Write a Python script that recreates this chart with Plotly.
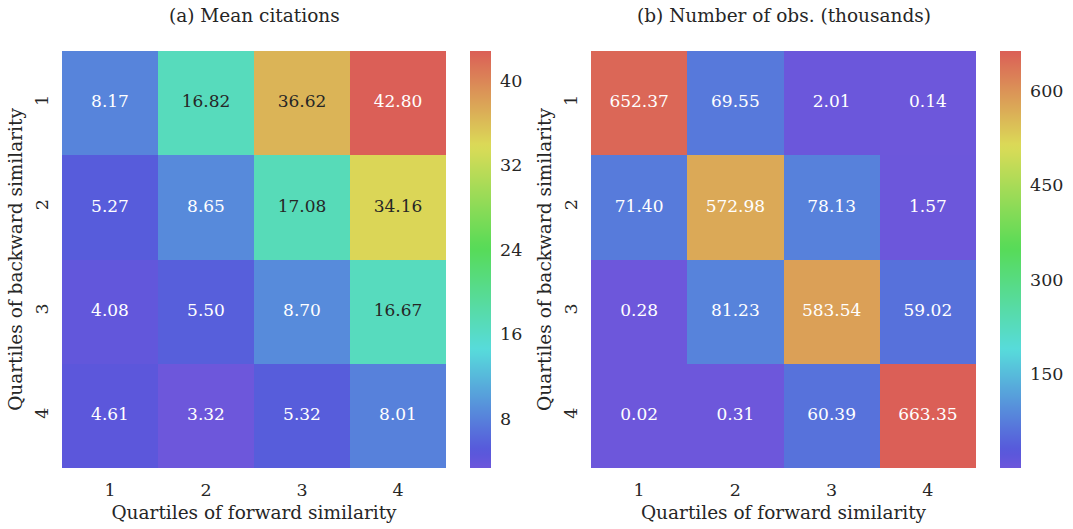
import colorsys
import plotly.graph_objects as go

# ---- data ----
fwd_labels = ["1", "2", "3", "4"]
bwd_labels = ["1", "2", "3", "4"]
mean_citations = [
    [8.17, 16.82, 36.62, 42.80],
    [5.27, 8.65, 17.08, 34.16],
    [4.08, 5.50, 8.70, 16.67],
    [4.61, 3.32, 5.32, 8.01],
]
num_obs = [
    [652.37, 69.55, 2.01, 0.14],
    [71.40, 572.98, 78.13, 1.57],
    [0.28, 81.23, 583.54, 59.02],
    [0.02, 0.31, 60.39, 663.35],
]
cbar_ticks_a = [8, 16, 24, 32, 40]
cbar_ticks_b = [150, 300, 450, 600]

W, H = 1073, 529
FONT = "DejaVu Serif"
TXT = "#262626"
F_ANN, F_TICK, F_TITLE = 17, 17.5, 18.5

H_TOP, H_BOT = 250.0, 3.6
L, S = 0.6, 0.65
LUM_THRESHOLD = 0.46


def cmap(t):
    h = (H_BOT + (1 - t) * (H_TOP - H_BOT)) / 360.0
    return colorsys.hls_to_rgb(h, L, S)


N = 64
colorscale = []
for i in range(N):
    t = i / (N - 1)
    r, g, b = cmap(t)
    colorscale.append([t, f"rgb({round(r*255)},{round(g*255)},{round(b*255)})"])


def lum(rgb):
    def lin(c):
        return c / 12.92 if c <= 0.03928 else ((c + 0.055) / 1.055) ** 2.4
    r, g, b = (lin(c) for c in rgb)
    return 0.2126 * r + 0.7152 * g + 0.0722 * b


def text_colors(z):
    flat = [v for row in z for v in row]
    lo, hi = min(flat), max(flat)
    cols = []
    for row in z:
        for v in row:
            c = cmap((v - lo) / (hi - lo))
            cols.append(TXT if lum(c) > LUM_THRESHOLD else "white")
    return cols


def px2x(p):
    return p / W


def px2y(p):
    return 1 - p / H


top, bot = 51, 468
dom_y = [px2y(bot), px2y(top)]
dom_x1 = [px2x(62), px2x(446)]
dom_x2 = [px2x(591), px2x(976)]

fig = go.Figure()

xs = [1, 2, 3, 4]
ys = [1, 2, 3, 4]

for z, ticks, cbx, xa, ya in [
    (mean_citations, cbar_ticks_a, 470, "x", "y"),
    (num_obs, cbar_ticks_b, 1000, "x2", "y2"),
]:
    fig.add_trace(go.Heatmap(
        z=z, x=xs, y=ys, xaxis=xa, yaxis=ya,
        colorscale=colorscale, xgap=0, ygap=0,
        hoverinfo="skip",
        colorbar=dict(
            x=px2x(cbx), xanchor="left", xref="paper",
            y=px2y(bot), yanchor="bottom",
            len=(bot - top) / H, lenmode="fraction",
            thickness=21, thicknessmode="pixels",
            outlinewidth=0, tickvals=ticks,
            ticks="outside", ticklen=6, tickcolor="rgba(0,0,0,0)",
            tickfont=dict(family=FONT, size=F_TICK, color=TXT),
            ypad=0, xpad=0,
        ),
    ))
    tx, ty, tt = [], [], []
    for i, row in enumerate(z):
        for j, v in enumerate(row):
            tx.append(xs[j]); ty.append(ys[i]); tt.append(f"{v:.2f}")
    fig.add_trace(go.Scatter(
        x=tx, y=ty, text=tt, mode="text", xaxis=xa, yaxis=ya,
        textfont=dict(family=FONT, size=F_ANN, color=text_colors(z)),
        hoverinfo="skip", showlegend=False,
    ))

axis_common = dict(
    showgrid=False, zeroline=False, showline=False, ticks="",
    tickfont=dict(family=FONT, size=F_TICK, color=TXT),
)


def xaxis(dom, anchor):
    return dict(domain=dom, range=[0.5, 4.5], tickvals=xs, ticktext=fwd_labels,
                ticklabelstandoff=9,
                title=dict(text="Quartiles of forward similarity",
                           font=dict(family=FONT, size=F_TITLE, color=TXT), standoff=7),
                anchor=anchor, **axis_common)


def yaxis(anchor):
    return dict(domain=dom_y, range=[4.5, 0.5], tickvals=ys, ticktext=bwd_labels,
                tickangle=-90, ticklabelstandoff=10,
                title=dict(text="Quartiles of backward similarity",
                           font=dict(family=FONT, size=F_TITLE, color=TXT), standoff=4),
                anchor=anchor, **axis_common)


fig.update_layout(
    width=W, height=H, margin=dict(l=0, r=0, t=0, b=0),
    paper_bgcolor="white", plot_bgcolor="white",
    font=dict(family=FONT, color=TXT),
    showlegend=False,
    xaxis=xaxis(dom_x1, "y"),
    yaxis=yaxis("x"),
    xaxis2=xaxis(dom_x2, "y2"),
    yaxis2=yaxis("x2"),
    annotations=[
        dict(text="(a) Mean citations", x=(dom_x1[0] + dom_x1[1]) / 2, y=px2y(15),
             xref="paper", yref="paper", showarrow=False, xanchor="center", yanchor="middle",
             font=dict(family=FONT, size=F_TITLE, color=TXT)),
        dict(text="(b) Number of obs. (thousands)", x=(dom_x2[0] + dom_x2[1]) / 2, y=px2y(15),
             xref="paper", yref="paper", showarrow=False, xanchor="center", yanchor="middle",
             font=dict(family=FONT, size=F_TITLE, color=TXT)),
    ],
)

fig.write_html("out.html")
